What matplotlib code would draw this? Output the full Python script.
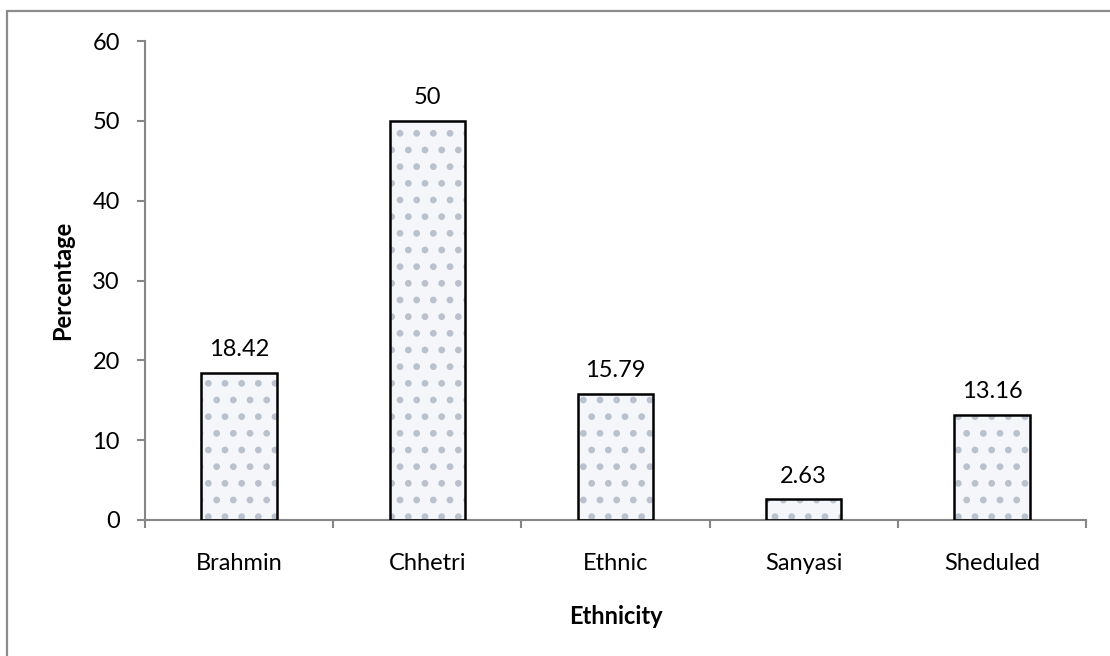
import matplotlib
matplotlib.use("Agg")
import matplotlib.pyplot as plt
from matplotlib.patches import Rectangle

categories = ["Brahmin", "Chhetri", "Ethnic", "Sanyasi", "Sheduled"]
values = [18.42, 50, 15.79, 2.63, 13.16]
value_labels = ["18.42", "50", "15.79", "2.63", "13.16"]
y_ticks = [0, 10, 20, 30, 40, 50, 60]

plt.rcParams["font.family"] = ["Lato", "DejaVu Sans"]
plt.rcParams["hatch.linewidth"] = 2.4

W, H = 1110, 656
fig = plt.figure(figsize=(W / 100, H / 100), dpi=100)
fig.patch.set_facecolor("white")

# outer chart border (extends past right and bottom edges)
fig.patches.append(Rectangle((7 / W, -0.05), 1.2, 1 - 11 / H + 0.05,
                             transform=fig.transFigure, fill=False,
                             edgecolor="#8c8c8c", linewidth=1.6))

ax = fig.add_axes([145 / W, 1 - 520 / H, (1086 - 145) / W, (520 - 41) / H])

x = list(range(len(categories)))
# dotted fill layer
ax.bar(x, values, width=0.4, color="#f4f6fa", edgecolor="#b9c1cd",
       hatch=".", linewidth=0, zorder=2)
# black outline layer
ax.bar(x, values, width=0.4, fill=False, edgecolor="black",
       linewidth=1.8, zorder=3)

for xi, v, lab in zip(x, values, value_labels):
    ax.annotate(lab, (xi, v), xytext=(0, 9), textcoords="offset points",
                ha="center", va="bottom", fontsize=17, color="black")

ax.set_xlim(-0.5, len(categories) - 0.5)
ax.set_ylim(0, 60)
ax.set_yticks(y_ticks)
ax.set_xticks(x)
ax.set_xticklabels(categories)
ax.set_xticks([i + 0.5 for i in range(-1, len(categories))], minor=True)

for s in ["top", "right"]:
    ax.spines[s].set_visible(False)
for s in ["left", "bottom"]:
    ax.spines[s].set_color("#868686")
    ax.spines[s].set_linewidth(1.5)

ax.tick_params(axis="y", length=6, width=1.5, color="#868686",
               labelsize=17, pad=12)
ax.tick_params(axis="x", which="major", length=0, labelsize=17, pad=24)
ax.tick_params(axis="x", which="minor", length=6, width=1.5,
               color="#868686")

ax.set_xlabel("Ethnicity", fontsize=17, fontweight="bold", labelpad=22)
ax.set_ylabel("Percentage", fontsize=17, fontweight="bold", labelpad=13)

fig.savefig("out.png", dpi=100, facecolor="white")
